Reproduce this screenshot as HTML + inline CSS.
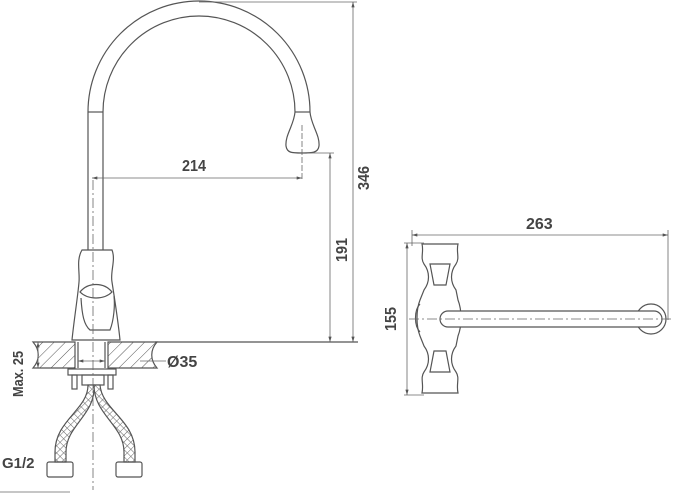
<!DOCTYPE html>
<html><head><meta charset="utf-8"><style>
html,body{margin:0;padding:0;background:#fff;width:675px;height:500px;overflow:hidden}
text{font-family:"Liberation Sans",sans-serif;font-size:16px;fill:#444;font-weight:bold}
</style></head><body>
<svg width="675" height="500" viewBox="0 0 675 500" xmlns="http://www.w3.org/2000/svg">
<defs>
<pattern id="h" width="8" height="8" patternUnits="userSpaceOnUse" patternTransform="rotate(45)">
<line x1="0" y1="0" x2="0" y2="8" stroke="#555" stroke-width="1"/></pattern>
<pattern id="x" width="5" height="5" patternUnits="userSpaceOnUse" patternTransform="rotate(45)">
<rect width="5" height="5" fill="#fff"/><line x1="0" y1="0" x2="0" y2="5" stroke="#666"/><line x1="0" y1="0" x2="5" y2="0" stroke="#666"/></pattern>
<marker id="a" viewBox="0 0 10 6" refX="10" refY="3" markerWidth="8" markerHeight="4" orient="auto-start-reverse"><path d="M0 0 L10 3 L0 6 Z" fill="#555"/></marker>
</defs>
<g fill="none" stroke="#555" stroke-width="1.2">
<path d="M88 112 A111 111 0 0 1 310 112"/>
<path d="M103 112 A96 96 0 0 1 295 112"/>
<line x1="88" y1="112" x2="103" y2="112"/><line x1="295" y1="112" x2="310" y2="112"/>
<line x1="88" y1="112" x2="88" y2="250"/><line x1="103" y1="112" x2="103" y2="250"/>
<path d="M295 112 C294 125 285 135 286 146 C287 153 292 153 302 153 C312 153 318 153 319 146 C320 135 311 125 310 112"/>
<path d="M82 250 L112 250 C116 260 110 272 112 282 C114 295 118 320 120 340 L72 340 C74 320 78 295 79 282 C80 272 76 260 82 250 Z"/>
<path d="M80 292 C88 282 104 282 112 292 C104 300 88 300 80 292 Z"/>
<path d="M81 298 C82 315 84 325 90 330 L110 330 C114 320 115 305 114 296"/>
<path d="M33 342 L75 342 L75 368 L33 368 C40 360 40 350 33 342 Z" fill="url(#h)"/>
<path d="M108 342 L157 342 C150 350 150 360 157 368 L108 368 Z" fill="url(#h)"/>
<line x1="155" y1="342" x2="358" y2="342"/>
<line x1="78" y1="342" x2="78" y2="368"/><line x1="105" y1="342" x2="105" y2="368"/>
<rect x="68" y="369" width="48" height="6"/>
<rect x="72" y="375" width="5" height="14"/><rect x="108" y="375" width="5" height="14"/>
<rect x="82" y="375" width="22" height="10"/>
<path d="M88 385 C88 410 55 420 55 452 L55 462 L66 462 L66 452 C66 425 96 415 94 385 Z" fill="url(#x)"/>
<path d="M94 385 C94 415 124 425 124 452 L124 462 L135 462 L135 452 C135 420 102 410 100 385 Z" fill="url(#x)"/>
<rect x="47" y="462" width="26" height="15" rx="2"/><rect x="116" y="462" width="26" height="15" rx="2"/>
</g>
<g fill="none" stroke="#666" stroke-width="0.8">
<line x1="93" y1="180" x2="93" y2="490" stroke-dasharray="10,3,2,3"/>
<line x1="302" y1="125" x2="302" y2="180" stroke-dasharray="6,2"/>
<line x1="92" y1="178" x2="302" y2="178" marker-start="url(#a)" marker-end="url(#a)"/>
<line x1="303" y1="153" x2="334" y2="153"/>
<line x1="330" y1="153" x2="330" y2="342" marker-start="url(#a)" marker-end="url(#a)"/>
<line x1="199" y1="2" x2="357" y2="2"/>
<line x1="353" y1="2" x2="353" y2="342" marker-start="url(#a)" marker-end="url(#a)"/>
<line x1="38" y1="342" x2="38" y2="368" marker-start="url(#a)" marker-end="url(#a)"/>
<line x1="78" y1="361" x2="105" y2="361" marker-start="url(#a)" marker-end="url(#a)"/><line x1="140" y1="361" x2="166" y2="361"/>
<line x1="0" y1="492" x2="70" y2="492"/>
</g>
<text x="182" y="171" transform="translate(182,0) scale(0.9,1) translate(-182,0)">214</text>
<text transform="translate(347,262) rotate(-90) scale(0.9,1)">191</text>
<text transform="translate(369,190) rotate(-90) scale(0.9,1)">346</text>
<text transform="translate(23,397) rotate(-90) scale(0.85,1)" style="font-size:15px">Max. 25</text>
<text x="167" y="367">Ø35</text>
<text x="2" y="468" style="font-size:15px">G1/2</text>
<g fill="none" stroke="#555" stroke-width="1.2">
<path d="M422 244 L458 244 C456 252 460 258 456 264 C450 272 450 282 456 290 L458 300 C462 310 462 326 458 336 L456 346 C450 354 450 364 456 372 C460 378 456 384 458 393 L422 393 C424 384 420 378 424 372 C430 364 430 354 424 346 L420 336 C416 326 416 310 420 300 L424 290 C430 282 430 272 424 264 C420 258 424 252 422 244 Z"/>
<path d="M430 264 L450 264 L446 285 L434 285 Z"/>
<path d="M430 372 L450 372 L446 351 L434 351 Z"/>
<path d="M420 304 C414 310 414 326 420 332"/>
<circle cx="651" cy="319" r="15"/>
<rect x="440" y="311" width="222" height="16" rx="8" fill="#fff"/>
</g>
<g fill="none" stroke="#666" stroke-width="0.8">
<line x1="409" y1="319" x2="672" y2="319" stroke-dasharray="10,3,2,3"/>
<line x1="412" y1="235" x2="668" y2="235" marker-start="url(#a)" marker-end="url(#a)"/>
<line x1="412" y1="230" x2="412" y2="246"/><line x1="668" y1="230" x2="668" y2="320"/>
<line x1="407" y1="243" x2="407" y2="395" marker-start="url(#a)" marker-end="url(#a)"/>
<line x1="404" y1="243" x2="424" y2="243"/><line x1="404" y1="395" x2="424" y2="395"/>
</g>
<text x="526" y="229">263</text>
<text transform="translate(396,331) rotate(-90) scale(0.9,1)">155</text>
</svg>
</body></html>
